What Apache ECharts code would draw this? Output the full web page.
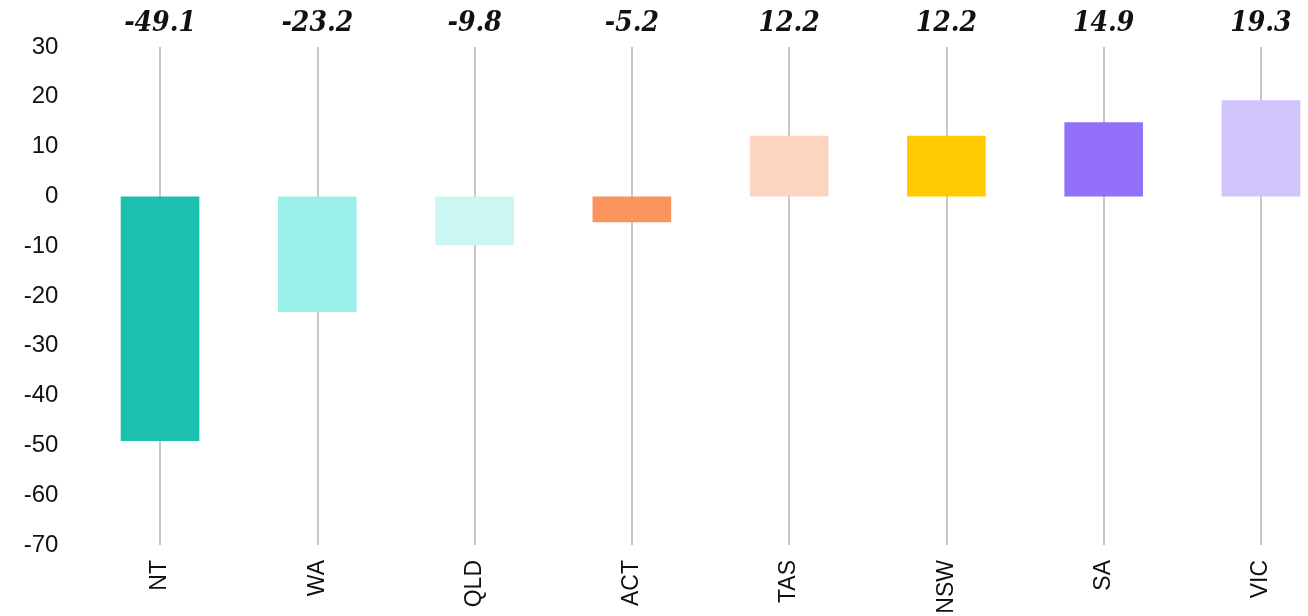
<!DOCTYPE html>
<html>
<head>
<meta charset="utf-8">
<script src="https://cdn.jsdelivr.net/npm/echarts@6/dist/echarts.min.js"></script>
<style>
html,body{margin:0;padding:0;background:#fff;}
#chart{width:1308px;height:616px;}
</style>
</head>
<body>
<div id="chart"></div>
<script>
const categories = ['NT', 'WA', 'QLD', 'ACT', 'TAS', 'NSW', 'SA', 'VIC'];
const values = [-49.1, -23.2, -9.8, -5.2, 12.2, 12.2, 14.9, 19.3];
const barColors = ['#1dbfb0', '#9af0e8', '#ccf6f2', '#fb945c', '#fcd4bf', '#ffcb00', '#9370fa', '#d1c4fb'];
const yTicks = [-70, -60, -50, -40, -30, -20, -10, 0, 10, 20, 30];

const chart = echarts.init(document.getElementById('chart'));
chart.setOption({
  animation: false,
  grid: { left: 81.4, width: 1258.2, top: 47, bottom: 71, containLabel: false, outerBoundsMode: 'none' },
  xAxis: {
    type: 'category',
    data: categories,
    axisLine: { show: false },
    axisTick: { show: false },
    splitLine: { show: false },
    axisLabel: {
      rotate: 90,
      margin: 15,
      fontSize: 23,
      color: '#111',
      fontFamily: '"Liberation Sans", Arial, sans-serif'
    }
  },
  yAxis: {
    type: 'value',
    min: yTicks[0],
    max: yTicks[yTicks.length - 1],
    interval: 10,
    axisLine: { show: false },
    axisTick: { show: false },
    splitLine: { show: false },
    axisLabel: {
      margin: 23,
      fontSize: 24,
      color: '#111',
      fontFamily: '"Liberation Sans", Arial, sans-serif'
    }
  },
  series: [
    {
      type: 'line',
      data: [],
      z: 1,
      silent: true,
      markLine: {
        z: 1,
        symbol: 'none',
        silent: true,
        lineStyle: { color: '#c8c8c8', width: 2, type: 'solid' },
        label: {
          show: true,
          position: 'end',
          distance: 9,
          fontSize: 28,
          fontWeight: 'bold',
          fontStyle: 'italic',
          fontFamily: '"DejaVu Serif Condensed", "DejaVu Serif", serif',
          color: '#111'
        },
        data: categories.map((c, i) => ({
          xAxis: c,
          label: { formatter: values[i].toFixed(1) }
        }))
      }
    },
    {
      type: 'bar',
      z: 3,
      barWidth: '50%',
      data: values.map((v, i) => ({ value: v, itemStyle: { color: barColors[i] } }))
    }
  ]
});
</script>
</body>
</html>
